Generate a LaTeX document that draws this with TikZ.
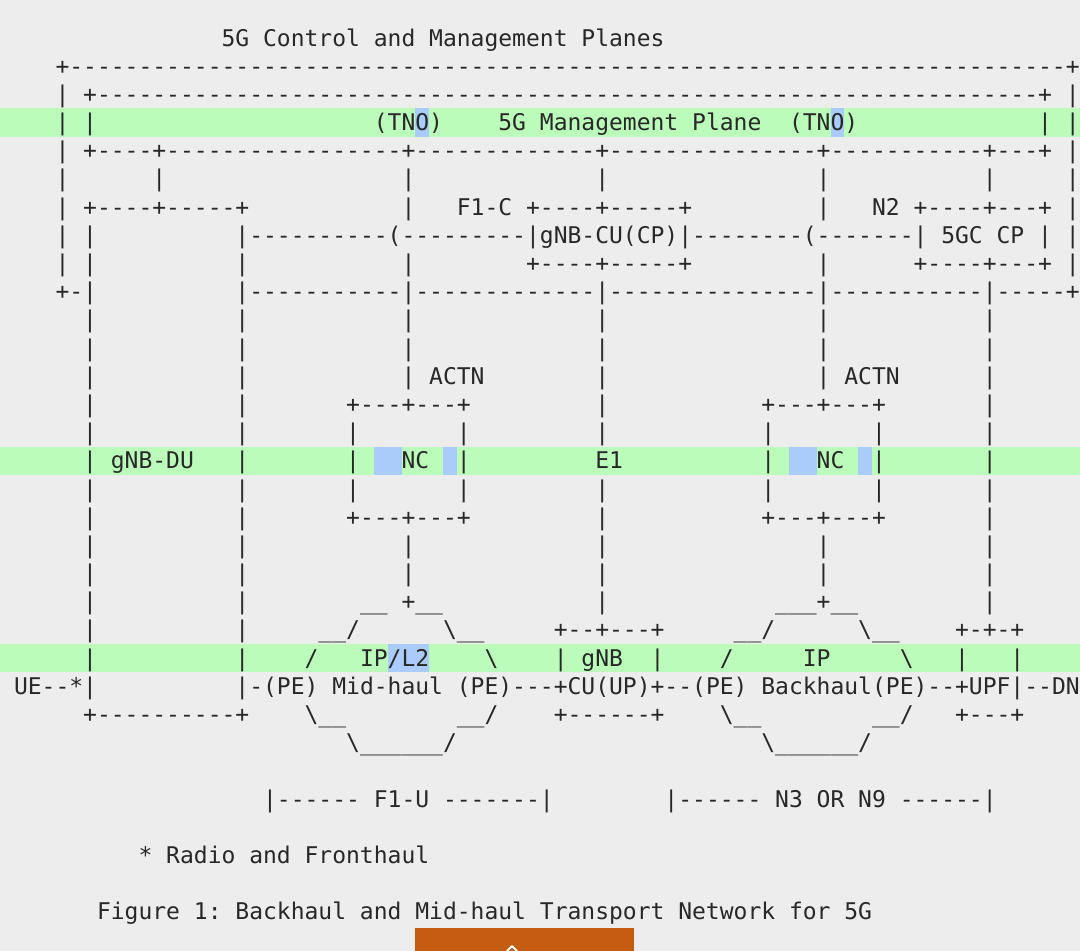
\documentclass[tikz,border=0pt]{standalone}
\usepackage{fontspec}
\setmonofont{DejaVu Sans Mono}
\definecolor{bgcol}{RGB}{237,237,237}
\definecolor{bandgreen}{RGB}{187,252,187}
\definecolor{hlblue}{RGB}{170,204,250}
\definecolor{btnorange}{RGB}{197,90,17}
\definecolor{ink}{RGB}{40,40,40}
\ExplSyntaxOn
\cs_new:Npn \myrep #1#2 { \prg_replicate:nn {#1} {#2} }
\ExplSyntaxOff
\tikzset{txt/.style={inner sep=0pt, outer sep=0pt, anchor=base west, text=ink,
  font=\ttfamily\fontsize{22.99pt}{28pt}\selectfont\frenchspacing}}
\newcommand\txtat[3]{\node[txt] (r#1c#2) at ({14+13.84*#2},{46+28.19*#1}) {#3};}
\newcommand\greenband[1]{\fill[bandgreen] (0,{38+28.19*#1-14.1}) rectangle (1080,{38+28.19*#1+14.1});}
\newcommand\bluehl[3]{\fill[hlblue] ({14+13.84*#2},{38+28.19*#1-14.1}) rectangle ({14+13.84*(#2+#3)},{38+28.19*#1+14.1});}
\newcommand\barsat[2]{\foreach \cc in {#2} {\txtat{#1}{\cc}{|}}}
\begin{document}
\begin{tikzpicture}[x=1pt,y=-1pt]
\useasboundingbox (0,0) rectangle (1080,951);
\fill[bgcol] (0,0) rectangle (1080,951);
% highlight bands
\greenband{3}\greenband{15}\greenband{22}
\bluehl{3}{29}{1}\bluehl{3}{59}{1}
\bluehl{15}{26}{2}\bluehl{15}{31}{1}\bluehl{15}{56}{2}\bluehl{15}{61}{1}
\bluehl{22}{27}{3}
% row 0
\txtat{0}{15}{5G Control and Management Planes}
% row 1
\txtat{1}{3}{+\myrep{72}{-}+}
% row 2
\txtat{2}{3}{|}\txtat{2}{5}{+\myrep{68}{-}+}\txtat{2}{76}{|}
% row 3
\txtat{3}{3}{|}\txtat{3}{5}{|}\txtat{3}{26}{(TNO)}\txtat{3}{35}{5G Management Plane}\txtat{3}{56}{(TNO)}\txtat{3}{74}{|}\txtat{3}{76}{|}
% row 4
\txtat{4}{3}{|}\txtat{4}{5}{+\myrep{4}{-}+\myrep{17}{-}+\myrep{13}{-}+\myrep{15}{-}+\myrep{11}{-}+\myrep{3}{-}+}\txtat{4}{76}{|}
% row 5
\txtat{5}{3}{|}\txtat{5}{10}{|}\txtat{5}{28}{|}\txtat{5}{42}{|}\txtat{5}{58}{|}\txtat{5}{70}{|}\txtat{5}{76}{|}
% row 6
\txtat{6}{3}{|}\txtat{6}{5}{+\myrep{4}{-}+\myrep{5}{-}+}\txtat{6}{28}{|}\txtat{6}{32}{F1-C}\txtat{6}{37}{+\myrep{4}{-}+\myrep{5}{-}+}\txtat{6}{58}{|}\txtat{6}{62}{N2}\txtat{6}{65}{+\myrep{4}{-}+\myrep{3}{-}+}\txtat{6}{76}{|}
% row 7
\txtat{7}{3}{|}\txtat{7}{5}{|}\txtat{7}{16}{|\myrep{10}{-}(\myrep{9}{-}|gNB-CU(CP)|\myrep{8}{-}(\myrep{7}{-}|}\txtat{7}{67}{5GC CP}\txtat{7}{74}{|}\txtat{7}{76}{|}
% row 8
\txtat{8}{3}{|}\txtat{8}{5}{|}\txtat{8}{16}{|}\txtat{8}{28}{|}\txtat{8}{37}{+\myrep{4}{-}+\myrep{5}{-}+}\txtat{8}{58}{|}\txtat{8}{65}{+\myrep{4}{-}+\myrep{3}{-}+}\txtat{8}{76}{|}
% row 9
\txtat{9}{3}{+-|}\txtat{9}{16}{|\myrep{11}{-}|\myrep{13}{-}|\myrep{15}{-}|\myrep{11}{-}|\myrep{5}{-}+}
% rows 10-12
\txtat{10}{5}{|}\txtat{10}{16}{|}\txtat{10}{28}{|}\txtat{10}{42}{|}\txtat{10}{58}{|}\txtat{10}{70}{|}
\txtat{11}{5}{|}\txtat{11}{16}{|}\txtat{11}{28}{|}\txtat{11}{42}{|}\txtat{11}{58}{|}\txtat{11}{70}{|}
\txtat{12}{5}{|}\txtat{12}{16}{|}\txtat{12}{28}{|}\txtat{12}{30}{ACTN}\txtat{12}{42}{|}\txtat{12}{58}{|}\txtat{12}{60}{ACTN}\txtat{12}{70}{|}
% row 13
\txtat{13}{5}{|}\txtat{13}{16}{|}\txtat{13}{24}{+---+---+}\txtat{13}{42}{|}\txtat{13}{54}{+---+---+}\txtat{13}{70}{|}
% row 14
\txtat{14}{5}{|}\txtat{14}{16}{|}\txtat{14}{24}{|}\txtat{14}{32}{|}\txtat{14}{42}{|}\txtat{14}{54}{|}\txtat{14}{62}{|}\txtat{14}{70}{|}
% row 15
\txtat{15}{5}{|}\txtat{15}{7}{gNB-DU}\txtat{15}{16}{|}\txtat{15}{24}{|}\txtat{15}{28}{NC}\txtat{15}{32}{|}\txtat{15}{42}{E1}\txtat{15}{54}{|}\txtat{15}{58}{NC}\txtat{15}{62}{|}\txtat{15}{70}{|}
% row 16
\txtat{16}{5}{|}\txtat{16}{16}{|}\txtat{16}{24}{|}\txtat{16}{32}{|}\txtat{16}{42}{|}\txtat{16}{54}{|}\txtat{16}{62}{|}\txtat{16}{70}{|}
% row 17
\txtat{17}{5}{|}\txtat{17}{16}{|}\txtat{17}{24}{+---+---+}\txtat{17}{42}{|}\txtat{17}{54}{+---+---+}\txtat{17}{70}{|}
% rows 18-19
\txtat{18}{5}{|}\txtat{18}{16}{|}\txtat{18}{28}{|}\txtat{18}{42}{|}\txtat{18}{58}{|}\txtat{18}{70}{|}
\txtat{19}{5}{|}\txtat{19}{16}{|}\txtat{19}{28}{|}\txtat{19}{42}{|}\txtat{19}{58}{|}\txtat{19}{70}{|}
% row 20
\txtat{20}{5}{|}\txtat{20}{16}{|}\txtat{20}{25}{\_\_ +\_\_}\txtat{20}{42}{|}\txtat{20}{55}{\_\_\_+\_\_}\txtat{20}{70}{|}
% row 21
\txtat{21}{5}{|}\txtat{21}{16}{|}\txtat{21}{22}{\_\_/}\txtat{21}{31}{\textbackslash\_\_}\txtat{21}{39}{+--+---+}\txtat{21}{52}{\_\_/}\txtat{21}{61}{\textbackslash\_\_}\txtat{21}{68}{+-+-+}
% row 22
\txtat{22}{5}{|}\txtat{22}{16}{|}\txtat{22}{21}{/}\txtat{22}{25}{IP/L2}\txtat{22}{34}{\textbackslash}\txtat{22}{39}{|}\txtat{22}{41}{gNB}\txtat{22}{46}{|}\txtat{22}{51}{/}\txtat{22}{57}{IP}\txtat{22}{64}{\textbackslash}\txtat{22}{68}{|}\txtat{22}{72}{|}
% row 23
\txtat{23}{0}{UE--*|}\txtat{23}{16}{|-(PE)}\txtat{23}{23}{Mid-haul}\txtat{23}{32}{(PE)---+CU(UP)+--(PE)}\txtat{23}{54}{Backhaul(PE)--+UPF|--DN}
% row 24
\txtat{24}{5}{+\myrep{10}{-}+}\txtat{24}{21}{\textbackslash\_\_}\txtat{24}{32}{\_\_/}\txtat{24}{39}{+\myrep{6}{-}+}\txtat{24}{51}{\textbackslash\_\_}\txtat{24}{62}{\_\_/}\txtat{24}{68}{+---+}
% row 25
\txtat{25}{24}{\textbackslash\myrep{6}{\_}/}\txtat{25}{54}{\textbackslash\myrep{6}{\_}/}
% row 27
\txtat{27}{18}{|------ F1-U -------|}\txtat{27}{47}{|------ N3 OR N9 ------|}
% row 29
\txtat{29}{9}{* Radio and Fronthaul}
% row 31
\txtat{31}{6}{Figure 1: Backhaul and Mid-haul Transport Network for 5G}
% button
\fill[btnorange] (415,928) rectangle (634,951);
\draw[white, line width=2pt, line cap=round, line join=round] (507,951) -- (512,946) -- (517,951);
\end{tikzpicture}
\end{document}
